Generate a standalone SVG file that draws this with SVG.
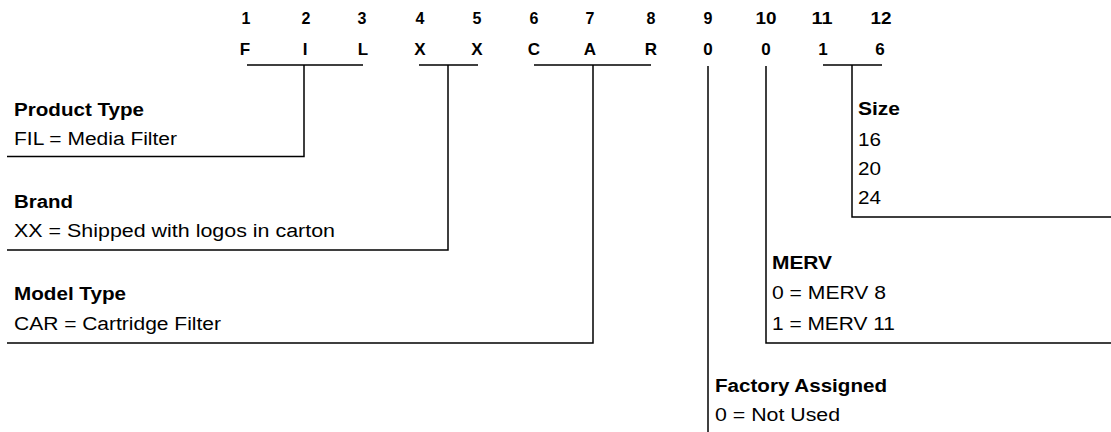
<svg xmlns="http://www.w3.org/2000/svg" width="1111" height="432" viewBox="0 0 1111 432">
<style>
text{font-family:"Liberation Sans",Arial,sans-serif;fill:#000}
.num{font-size:16px;font-weight:bold;text-anchor:middle}
.let{font-size:17px;font-weight:bold;text-anchor:middle}
.h{font-size:18px;font-weight:bold}
.v{font-size:18px}
.c{fill:none;stroke:#000;stroke-width:1.5}
</style>
<rect width="1111" height="432" fill="#fff"/>
<g id="header">
<text class="num" x="246" y="24">1</text>
<text class="num" x="306" y="24">2</text>
<text class="num" x="362" y="24">3</text>
<text class="num" x="420" y="24">4</text>
<text class="num" x="477" y="24">5</text>
<text class="num" x="534" y="24">6</text>
<text class="num" x="590" y="24">7</text>
<text class="num" x="651" y="24">8</text>
<text class="num" x="708" y="24">9</text>
<text class="num" x="766" y="24" textLength="21" lengthAdjust="spacingAndGlyphs">10</text>
<text class="num" x="822" y="24" textLength="21" lengthAdjust="spacingAndGlyphs">11</text>
<text class="num" x="881" y="24" textLength="21" lengthAdjust="spacingAndGlyphs">12</text>
<text class="let" x="245" y="55">F</text>
<text class="let" x="305" y="55">I</text>
<text class="let" x="363" y="55">L</text>
<text class="let" x="420" y="55">X</text>
<text class="let" x="477" y="55">X</text>
<text class="let" x="534" y="55">C</text>
<text class="let" x="590" y="55">A</text>
<text class="let" x="651" y="55">R</text>
<text class="let" x="708" y="55">0</text>
<text class="let" x="766" y="55">0</text>
<text class="let" x="823" y="55">1</text>
<text class="let" x="880" y="55">6</text>
</g>
<g id="connectors">
<path class="c" d="M247 65H363M304 65V156.5H7"/>
<path class="c" d="M419 65H478M448 65V250H7"/>
<path class="c" d="M534 65H651M593 65V343H7"/>
<path class="c" d="M708 66V432"/>
<path class="c" d="M766 66V343H1111"/>
<path class="c" d="M823 65H882M852 65V217H1111"/>
</g>
<g id="product-type">
<text class="h" x="14" y="116" textLength="130" lengthAdjust="spacingAndGlyphs">Product Type</text>
<text class="v" x="14" y="145" textLength="163" lengthAdjust="spacingAndGlyphs">FIL = Media Filter</text>
</g>
<g id="brand">
<text class="h" x="14" y="208" textLength="59" lengthAdjust="spacingAndGlyphs">Brand</text>
<text class="v" x="14" y="237" textLength="321" lengthAdjust="spacingAndGlyphs">XX = Shipped with logos in carton</text>
</g>
<g id="model-type">
<text class="h" x="14" y="300" textLength="112" lengthAdjust="spacingAndGlyphs">Model Type</text>
<text class="v" x="14" y="330" textLength="207" lengthAdjust="spacingAndGlyphs">CAR = Cartridge Filter</text>
</g>
<g id="size">
<text class="h" x="858" y="115" textLength="42" lengthAdjust="spacingAndGlyphs">Size</text>
<text class="v" x="858" y="146" textLength="23" lengthAdjust="spacingAndGlyphs">16</text>
<text class="v" x="858" y="175" textLength="23" lengthAdjust="spacingAndGlyphs">20</text>
<text class="v" x="858" y="204" textLength="23" lengthAdjust="spacingAndGlyphs">24</text>
</g>
<g id="merv">
<text class="h" x="772" y="269" textLength="60" lengthAdjust="spacingAndGlyphs">MERV</text>
<text class="v" x="772" y="299" textLength="114" lengthAdjust="spacingAndGlyphs">0 = MERV 8</text>
<text class="v" x="772" y="330" textLength="123" lengthAdjust="spacingAndGlyphs">1 = MERV 11</text>
</g>
<g id="factory-assigned">
<text class="h" x="715" y="392" textLength="172" lengthAdjust="spacingAndGlyphs">Factory Assigned</text>
<text class="v" x="715" y="421" textLength="125" lengthAdjust="spacingAndGlyphs">0 = Not Used</text>
</g>
</svg>
